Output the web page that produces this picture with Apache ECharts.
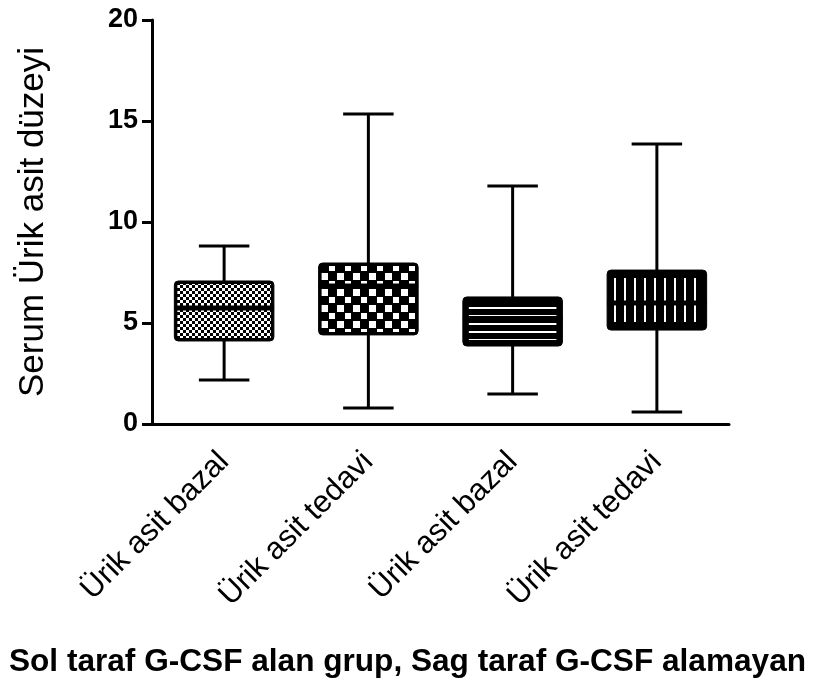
<!DOCTYPE html>
<html>
<head>
<meta charset="utf-8">
<script src="https://cdn.jsdelivr.net/npm/echarts@6/dist/echarts.min.js"></script>
<style>
html,body{margin:0;padding:0;background:#fff;}
#chart{width:815px;height:681px;}
</style>
</head>
<body>
<div id="chart"></div>
<script>
// ---- data ----
var categories = ['Ürik asit bazal', 'Ürik asit tedavi', 'Ürik asit bazal', 'Ürik asit tedavi'];
var whiskerLow = [2.18, 0.79, 1.49, 0.59];
var quartile1 = [4.11, 4.41, 3.86, 4.65];
var medians = [5.74, 6.83, 5.22, 5.99];
var quartile3 = [7.08, 7.97, 6.29, 7.62];
var whiskerHigh = [8.81, 15.35, 11.78, 13.86];
var yTicks = [0, 5, 10, 15, 20];
var yTitle = 'Serum Ürik asit düzeyi';
var xTitle = 'Sol taraf G-CSF alan grup, Sag taraf G-CSF alamayan';

var FONT = '"Liberation Sans", Arial, sans-serif';

function makePattern(kind) {
  var c = document.createElement('canvas');
  var ctx = c.getContext('2d');
  if (kind === 'fineChecker') {
    c.width = 6; c.height = 6;
    ctx.fillStyle = '#000'; ctx.fillRect(0, 0, 6, 6);
    ctx.fillStyle = '#fff'; ctx.fillRect(0, 0, 3, 3); ctx.fillRect(3, 3, 3, 3);
  } else if (kind === 'coarseChecker') {
    c.width = 16; c.height = 16;
    ctx.fillStyle = '#000'; ctx.fillRect(0, 0, 16, 16);
    ctx.fillStyle = '#fff'; ctx.fillRect(1, 1, 7, 7); ctx.fillRect(9, 9, 6, 6);
  } else if (kind === 'hStripes') {
    c.width = 8; c.height = 8;
    ctx.fillStyle = '#000'; ctx.fillRect(0, 0, 8, 8);
    ctx.fillStyle = '#fff'; ctx.fillRect(0, 3, 8, 2);
  } else {
    c.width = 10; c.height = 10;
    ctx.fillStyle = '#000'; ctx.fillRect(0, 0, 10, 10);
    ctx.fillStyle = '#fff'; ctx.fillRect(4, 0, 2, 10);
  }
  return c;
}
var patterns = [makePattern('fineChecker'), makePattern('coarseChecker'), makePattern('hStripes'), makePattern('vStripes')];
var insets = [[3, 3], [3, 3], [6, 6], [4, 8]];

var seriesData = categories.map(function (c, i) {
  return [i, whiskerLow[i], quartile1[i], medians[i], quartile3[i], whiskerHigh[i]];
});

var chart = echarts.init(document.getElementById('chart'), null, {renderer: 'canvas'});
chart.setOption({
  animation: false,
  backgroundColor: '#fff',
  title: {
    text: xTitle,
    left: 'center',
    top: 641,
    textStyle: {fontFamily: FONT, fontWeight: 'bold', fontSize: 31.6, color: '#000'}
  },
  grid: {left: 152, top: 20, right: 86, bottom: 257, containLabel: false},
  xAxis: {
    type: 'category',
    data: categories,
    axisLine: {lineStyle: {color: '#000', width: 3}},
    axisTick: {alignWithLabel: true, length: 10, lineStyle: {color: '#000', width: 3}},
    axisLabel: {rotate: 45, interval: 0, margin: 33, fontFamily: FONT, fontSize: 31, color: '#000'},
    splitLine: {show: false}
  },
  yAxis: {
    type: 'value',
    min: 0, max: 20, interval: 5,
    name: yTitle,
    nameLocation: 'middle',
    nameRotate: 90,
    nameGap: 101,
    nameTextStyle: {fontFamily: FONT, fontSize: 35, color: '#000'},
    axisLine: {show: true, lineStyle: {color: '#000', width: 3}},
    axisTick: {show: true, length: 10, lineStyle: {color: '#000', width: 3}},
    axisLabel: {margin: 14, fontFamily: FONT, fontWeight: 'bold', fontSize: 27, color: '#000',
      formatter: function (v) { return yTicks.indexOf(v) >= 0 ? String(v) : ''; }},
    splitLine: {show: false}
  },
  series: [{
    type: 'custom',
    data: seriesData,
    encode: {x: 0, y: [1, 2, 3, 4, 5]},
    renderItem: function (params, api) {
      var idx = api.value(0);
      var band = api.size([1, 0])[0];
      var boxW = band * 0.69;
      var capW = band * 0.35;
      var pLow = api.coord([idx, api.value(1)]);
      var pQ1 = api.coord([idx, api.value(2)]);
      var pMed = api.coord([idx, api.value(3)]);
      var pQ3 = api.coord([idx, api.value(4)]);
      var pHigh = api.coord([idx, api.value(5)]);
      var cx = pLow[0];
      var lw = 3;
      var ins = insets[params.dataIndex];
      var lineStyle = {stroke: '#000', lineWidth: lw, fill: null};
      return {
        type: 'group',
        children: [
          {type: 'line', shape: {x1: cx, y1: pQ3[1], x2: cx, y2: pHigh[1]}, style: lineStyle},
          {type: 'line', shape: {x1: cx, y1: pQ1[1], x2: cx, y2: pLow[1]}, style: lineStyle},
          {type: 'line', shape: {x1: cx - capW / 2, y1: pHigh[1], x2: cx + capW / 2, y2: pHigh[1]}, style: lineStyle},
          {type: 'line', shape: {x1: cx - capW / 2, y1: pLow[1], x2: cx + capW / 2, y2: pLow[1]}, style: lineStyle},
          {type: 'rect', shape: {x: cx - boxW / 2, y: pQ3[1], width: boxW, height: pQ1[1] - pQ3[1], r: 4},
            style: {fill: '#000', stroke: '#000', lineWidth: 1}},
          {type: 'rect', shape: {x: cx - boxW / 2 + ins[0], y: pQ3[1] + ins[1], width: boxW - 2 * ins[0], height: pQ1[1] - pQ3[1] - 2 * ins[1]},
            style: {fill: {image: patterns[params.dataIndex], repeat: 'repeat'}}},
          {type: 'line', shape: {x1: cx - boxW / 2, y1: pMed[1], x2: cx + boxW / 2, y2: pMed[1]}, style: {stroke: '#000', lineWidth: 5}}
        ]
      };
    }
  }]
});
</script>
</body>
</html>
